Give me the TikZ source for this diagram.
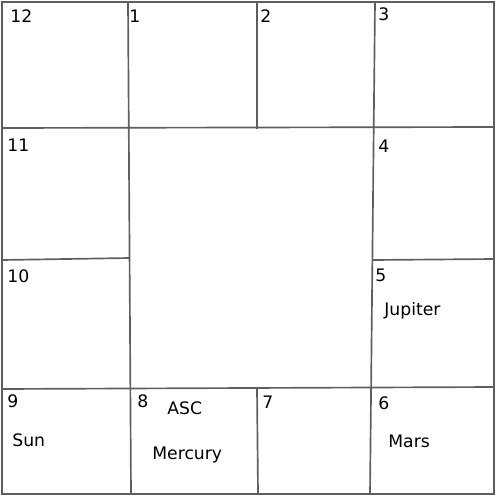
\documentclass[tikz,border=0pt]{standalone}
\usepackage{fontspec}
\setmainfont{DejaVu Sans}
\usepackage{tikz}
\usetikzlibrary{positioning}
\definecolor{gridgray}{HTML}{5E5E5E}

\begin{document}
\begin{tikzpicture}[x=0.02cm, y=-0.02cm, font=\fontsize{9.8}{11}\selectfont,
    grid/.style={gridgray, line width=0.95pt},
    lbl/.style={anchor=base west, inner sep=0pt}]
    \useasboundingbox (0,0) rectangle (500,500);
    \draw[grid] (2,2) rectangle (494,494);
    \draw[grid] (128,2) -- (131,494);
    \draw[grid] (257,2) -- (257,129);
    \draw[grid] (257,389) -- (258,494);
    \draw[grid] (375,2) -- (370,494);
    \draw[grid] (2,128) -- (494,127);
    \draw[grid] (2,260) -- (130,258);
    \draw[grid] (373,260) -- (494,259);
    \draw[grid] (2,389) -- (494,387);
    \foreach \n/\x/\y in {12/10/23, 1/129/23, 2/260/23, 3/378/21,
                          11/7/152, 4/378/153, 10/7/282, 5/375/281,
                          9/7/407, 8/137/407, 7/262/408, 6/378/409}
      \node[lbl] (house\n) at (\x,\y) {\n};
    \node[lbl] (jupiter) at (384,315) {Jupiter};
    \node[lbl] (sun) at (12,446) {Sun};
    \node[lbl] (asc) at (167,414) {ASC};
    \node[lbl] (mercury) at (152,459) {Mercury};
    \node[lbl] (mars) at (388,447) {Mars};
  \end{tikzpicture}
\end{document}
